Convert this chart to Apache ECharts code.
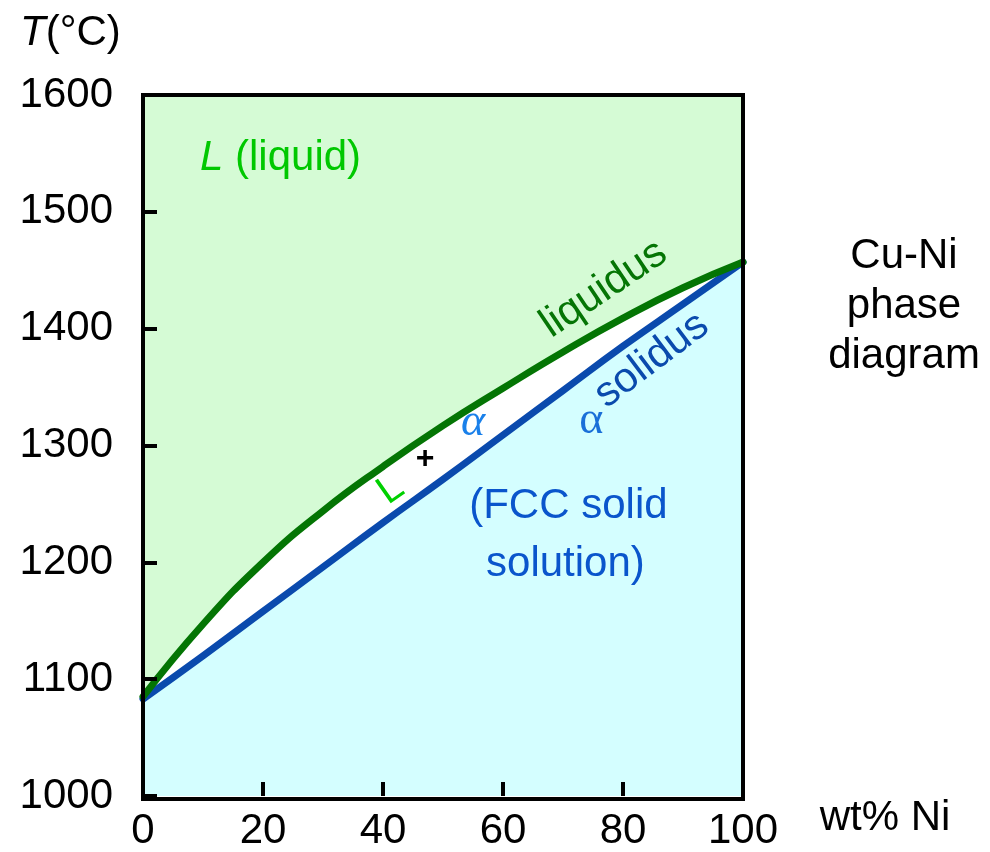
<!DOCTYPE html>
<html>
<head>
<meta charset="utf-8">
<script src="https://cdn.jsdelivr.net/npm/echarts@6/dist/echarts.min.js"></script>
<style>html,body{margin:0;padding:0;background:#fff;}#c{width:990px;height:852px;}</style>
</head>
<body>
<div id="c"></div>
<script>
// Data (wt% Ni, temperature °C)
const niPct = [0, 10, 20, 30, 40, 50, 60, 70, 80, 90, 100];
const liquidusT = [1085, 1147, 1200, 1244, 1282, 1317, 1349, 1380, 1409, 1435, 1457];
const solidusT  = [1083, 1120, 1158, 1196, 1234, 1271, 1309, 1347, 1385, 1421, 1457];
const xTickValues = [0, 20, 40, 60, 80, 100];
const yTickValues = [1000, 1100, 1200, 1300, 1400, 1500, 1600];

const liquidus = niPct.map((x, i) => [x, liquidusT[i]]);
const solidus = niPct.map((x, i) => [x, solidusT[i]]);

const FONT = '"Liberation Sans", Arial, Helvetica, sans-serif';
const SERIF = '"Liberation Serif", "DejaVu Serif", serif';
const FS = 42;
const G = {left: 143, top: 95, width: 600, height: 704};

const chart = echarts.init(document.getElementById('c'), null, {renderer: 'canvas'});

const curve = {type: 'line', smooth: 0.5, showSymbol: false, symbol: 'none'};

const option = {
  animation: false,
  backgroundColor: '#ffffff',
  grid: {left: G.left, top: G.top, width: G.width, height: G.height, show: true,
         backgroundColor: '#d5fbd5', borderWidth: 0},
  xAxis: {
    type: 'value', min: 0, max: 100, interval: 20, z: 10,
    axisLine: {show: false}, splitLine: {show: false},
    axisTick: {show: true, inside: true, length: 14, lineStyle: {color: '#000', width: 4}},
    axisLabel: {fontSize: FS, color: '#000', fontFamily: FONT, margin: 14,
                formatter: v => xTickValues.includes(v) ? String(v) : ''}
  },
  yAxis: {
    type: 'value', min: 1000, max: 1600, interval: 100, z: 10,
    axisLine: {show: false}, splitLine: {show: false},
    axisTick: {show: true, inside: true, length: 14, lineStyle: {color: '#000', width: 4}},
    axisLabel: {fontSize: FS, color: '#000', fontFamily: FONT, margin: 30,
                formatter: v => yTickValues.includes(v) ? String(v) : ''}
  },
  series: [
    Object.assign({}, curve, {name: 'liqArea', data: liquidus, silent: true, z: 2,
     lineStyle: {width: 0}, areaStyle: {color: '#ffffff', opacity: 1, origin: 'start'}}),
    Object.assign({}, curve, {name: 'solArea', data: solidus, silent: true, z: 3,
     lineStyle: {width: 0}, areaStyle: {color: '#d4feff', opacity: 1, origin: 'start'}}),
    Object.assign({}, curve, {name: 'solidus', data: solidus, clip: false, z: 5,
     lineStyle: {width: 7, color: '#0a4aad', cap: 'round'}}),
    Object.assign({}, curve, {name: 'liquidus', data: liquidus, clip: false, z: 6,
     lineStyle: {width: 7, color: '#047504', cap: 'round'}})
  ]
};
chart.setOption(option);

const P = (x, y) => chart.convertToPixel({gridIndex: 0}, [x, y]);

function txt(dx, dy, text, style, rot) {
  const p = P(dx, dy);
  return {type: 'text', x: p[0], y: p[1], rotation: rot || 0, z: 50,
          style: Object.assign({text: text, fontFamily: FONT, fontSize: FS, align: 'center', verticalAlign: 'middle'}, style)};
}

const deg = Math.PI / 180;
chart.setOption({
  graphic: [
    {type: 'rect', z: 40, shape: {x: G.left, y: G.top, width: G.width, height: G.height},
     style: {fill: 'none', stroke: '#000', lineWidth: 4}},
    // outside texts
    {type: 'text', x: 20, y: 33, z: 50,
     style: {text: '{i|T}(°C)', fontFamily: FONT, fontSize: FS, fill: '#000', verticalAlign: 'middle',
             rich: {i: {fontStyle: 'italic', fontFamily: FONT, fontSize: FS, fill: '#000'}}}},
    {type: 'text', x: 885, y: 818, z: 50,
     style: {text: 'wt% Ni', fontFamily: FONT, fontSize: FS, fill: '#000', align: 'center', verticalAlign: 'middle'}},
    {type: 'text', x: 904, y: 306, z: 50,
     style: {text: 'Cu-Ni\nphase\ndiagram', fontFamily: FONT, fontSize: FS, lineHeight: 50, fill: '#000',
             align: 'center', verticalAlign: 'middle'}},
    // inside annotations (data coordinates)
    txt(9.5, 1546, '{i|L} (liquid)', {fill: '#00c800', align: 'left',
        rich: {i: {fontStyle: 'italic', fontFamily: FONT, fontSize: FS, fill: '#00c800'}}}),
    txt(76.8, 1434, 'liquidus', {fill: '#057505'}, 34 * deg),
    txt(84.8, 1373, 'solidus', {fill: '#0a4aad'}, 37 * deg),
    txt(55, 1319, 'α', {fill: '#1a80ea', fontFamily: SERIF, fontSize: 46, fontStyle: 'italic'}),
    txt(74.7, 1321, 'α', {fill: '#1a6fd8', fontFamily: SERIF, fontSize: 46}),
    txt(47, 1288, '+', {fill: '#000', fontSize: 32, fontWeight: 'bold'}),
    txt(41.3, 1262, 'L', {fill: '#00d000', fontSize: 40}, 35 * deg),
    txt(70.9, 1248, '(FCC solid', {fill: '#0a55cc'}),
    txt(70.4, 1198, 'solution)', {fill: '#0a55cc'})
  ]
});
</script>
</body>
</html>
